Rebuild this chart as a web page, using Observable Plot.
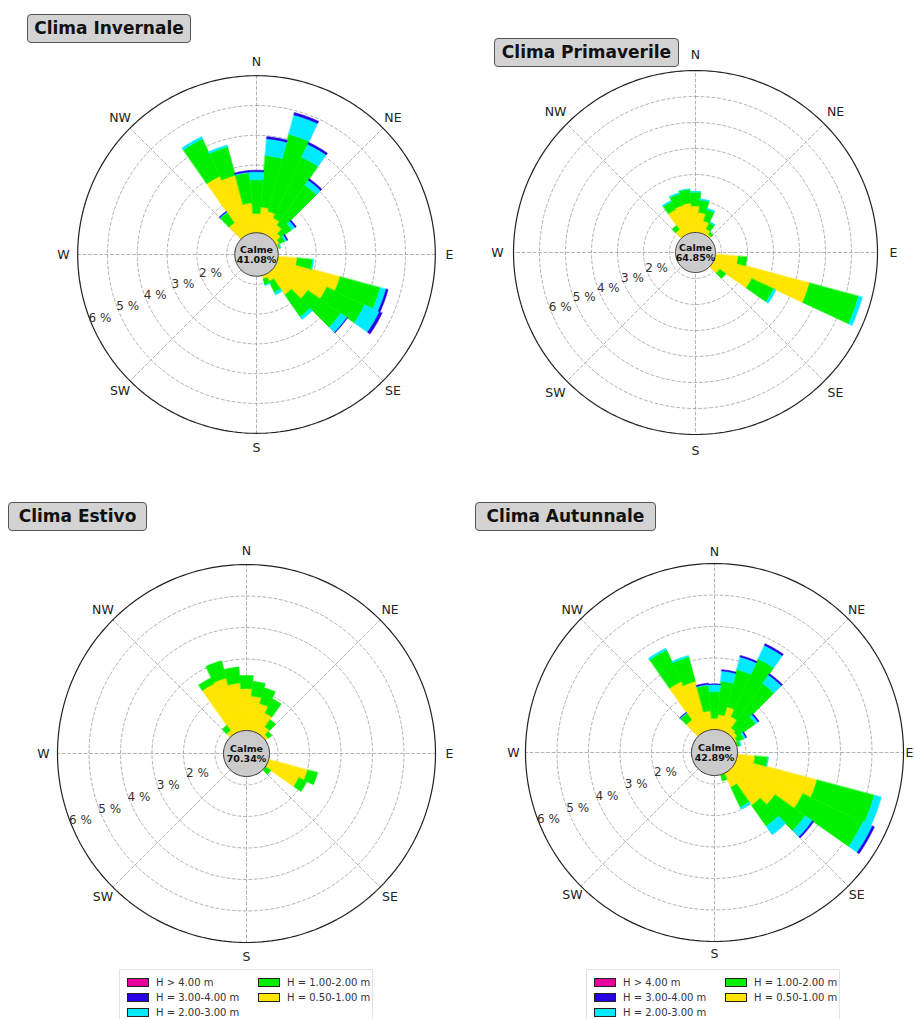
<!DOCTYPE html>
<html><head><meta charset="utf-8">
<script src="https://cdn.jsdelivr.net/npm/d3@7"></script>
<script src="https://cdn.jsdelivr.net/npm/@observablehq/plot@0.6"></script>
<style>
html,body{margin:0;padding:0;background:#fff;width:915px;height:1019px;overflow:hidden;font-family:"DejaVu Sans",sans-serif;}
.panel{position:absolute;z-index:1;width:440px;height:440px;}
.panel svg{max-width:none !important;width:440px;height:440px;}
.title{position:absolute;z-index:5;background:#d3d3d3;border:1.5px solid #555;border-radius:4px;font-weight:bold;font-size:17px;color:#111;text-align:center;box-sizing:border-box;height:29px;line-height:26px;}
.legend{position:absolute;z-index:5;width:254px;height:50px;top:969px;border:1px solid #e2e2e2;border-bottom:none;background:#fff;box-sizing:border-box;}
.item{position:absolute;font-size:10px;color:#333;white-space:nowrap;line-height:12px;}
.sw{display:inline-block;width:20px;height:7px;border:1px solid #222;vertical-align:middle;margin-right:7px;position:relative;top:-1px;}
</style></head><body>
<div class="title" style="left:27px;top:14px;width:164px">Clima Invernale</div>
<div class="title" style="left:494px;top:38px;width:185px">Clima Primaverile</div>
<div class="title" style="left:8px;top:502px;width:139px">Clima Estivo</div>
<div class="title" style="left:475px;top:502px;width:181px">Clima Autunnale</div>
<div id="winter" class="panel" style="left:36px;top:34px"></div>
<div id="spring" class="panel" style="left:475px;top:32px"></div>
<div id="summer" class="panel" style="left:26px;top:533px"></div>
<div id="autumn" class="panel" style="left:494px;top:532px"></div>
<div id="leg1" class="legend" style="left:119px"></div>
<div id="leg2" class="legend" style="left:586px"></div>
<script>
// ---------- data ----------
const dirs = [0,10,20,30,40,50,60,70,80,90,100,110,120,130,140,150,160,170,180,190,200,210,220,230,240,250,260,270,280,290,300,310,320,330,340,350];
const dirLabels = ["N","NE","E","SE","S","SW","W","NW"];
const dirLabelAngles = [0,45,90,135,180,225,270,315];
const pctTicks = [2,3,4,5,6];
const pctTickLabels = ["2 %","3 %","4 %","5 %","6 %"];
const classNames = ["H = 0.50-1.00 m","H = 1.00-2.00 m","H = 2.00-3.00 m","H = 3.00-4.00 m","H > 4.00 m"];
const calmLabels = ["41.08%","64.85%","70.34%","42.89%"];
const titles = ["Clima Invernale","Clima Primaverile","Clima Estivo","Clima Autunnale"];

// frequency (%) of each wave-height class per direction sector (10° sectors)
const winterH05 = [1.38,1.60,1.50,1.35,1.20,1.00,0.85,0.78,0,0,1.37,2.90, 2.60,2.10,1.65,1.00,0.85,0,0,0,0,0,0,0, 0,0,0,0,0,0,0,0,1.30,2.90,2.75,1.74];
const winterH12 = [1.13,1.73,2.68,2.25,1.64,0.45,0.20,0.04,0,0,0.52,1.40, 1.40,1.35,0.90,0.40,0.20,0,0,0,0,0,0,0, 0,0,0,0,0,0,0,0,0.42,1.38,0.99,1.01];
const winterH23 = [0.27,0.57,0.67,0.48,0.20,0.13,0.07,0.03,0,0,0.04,0.20, 0.55,0.25,0.11,0.10,0.03,0,0,0,0,0,0,0, 0,0,0,0,0,0,0,0,0.02,0.08,0.06,0.03];
const winterH34 = [0.05,0.07,0.08,0.07,0.06,0.05,0.04,0,0,0,0,0.07, 0.10,0.02,0,0,0,0,0,0,0,0,0,0, 0,0,0,0,0,0,0,0,0.03,0,0,0.05];
const winterH4  = [0,0,0,0,0,0,0,0,0,0,0,0, 0,0,0,0,0,0,0,0,0,0,0,0, 0,0,0,0,0,0,0,0,0,0,0,0];

const springH05 = [1.79,1.54,1.25,0.99,0.85,0,0,0,0,0,1.65,4.54, 2.38,1.13,0,0,0,0,0,0,0,0,0,0, 0,0,0,0,0,0,0,0,1.08,1.82,1.87,1.91];
const springH12 = [0.53,0.48,0.45,0.28,0.11,0,0,0,0,0,0.34,1.95, 0.93,0.29,0,0,0,0,0,0,0,0,0,0, 0,0,0,0,0,0,0,0,0.19,0.34,0.46,0.53];
const springH23 = [0.04,0.05,0.06,0.04,0,0,0,0,0,0,0,0.15, 0.10,0,0,0,0,0,0,0,0,0,0,0, 0,0,0,0,0,0,0,0,0,0.05,0.05,0.02];
const springH34 = [0,0,0,0,0,0,0,0,0,0,0,0, 0,0,0,0,0,0,0,0,0,0,0,0, 0,0,0,0,0,0,0,0,0,0,0,0];
const springH4  = [0,0,0,0,0,0,0,0,0,0,0,0, 0,0,0,0,0,0,0,0,0,0,0,0, 0,0,0,0,0,0,0,0,0,0,0,0];

const summerH05 = [2.06,1.83,1.64,1.41,1.03,0.84,0,0,0,0,0,2.01, 1.83,0.75,0,0,0,0,0,0,0,0,0,0, 0,0,0,0,0,0,0,0,0.89,2.44,2.48,2.25];
const summerH12 = [0.42,0.47,0.52,0.51,0.28,0.14,0,0,0,0,0,0.33, 0.28,0.19,0,0,0,0,0,0,0,0,0,0, 0,0,0,0,0,0,0,0,0.20,0.21,0.57,0.51];
const summerH23 = [0,0,0,0,0,0,0,0,0,0,0,0, 0,0,0,0,0,0,0,0,0,0,0,0, 0,0,0,0,0,0,0,0,0,0,0,0];
const summerH34 = [0,0,0,0,0,0,0,0,0,0,0,0, 0,0,0,0,0,0,0,0,0,0,0,0, 0,0,0,0,0,0,0,0,0,0,0,0];
const summerH4  = [0,0,0,0,0,0,0,0,0,0,0,0, 0,0,0,0,0,0,0,0,0,0,0,0, 0,0,0,0,0,0,0,0,0,0,0,0];

const autumnH05 = [1.09,1.21,1.50,1.25,0.94,0.89,0.80,0.75,0,0,1.29,3.37, 3.09,2.34,2.05,1.22,0.75,0,0,0,0,0,0,0, 0,0,0,0,0,0,0,0,1.26,2.49,2.34,1.33];
const autumnH12 = [0.85,1.06,1.23,2.03,1.73,0.70,0.23,0.09,0,0,0.40,1.88, 2.11,1.17,0.81,0.70,0.19,0,0,0,0,0,0,0, 0,0,0,0,0,0,0,0,0.26,1.10,0.80,0.81];
const autumnH23 = [0.22,0.33,0.41,0.47,0.33,0.10,0.07,0.04,0,0,0.03,0.23, 0.33,0.28,0.33,0.07,0,0,0,0,0,0,0,0, 0,0,0,0,0,0,0,0,0.02,0.06,0.05,0.03];
const autumnH34 = [0.02,0.04,0.05,0.06,0.05,0.04,0.03,0,0,0,0,0, 0.07,0.05,0,0,0,0,0,0,0,0,0,0, 0,0,0,0,0,0,0,0,0.02,0,0,0.04];
const autumnH4  = [0,0,0,0,0,0,0,0,0,0,0,0, 0,0,0,0,0,0,0,0,0,0,0,0, 0,0,0,0,0,0,0,0,0,0,0,0];

// ---------- styling ----------
const classColors = ["#ffe500","#00f000","#00eaff","#2800e6","#e8009c"];
const rad = Math.PI / 180;
const pt = (b, r) => [r * Math.sin(b * rad), r * Math.cos(b * rad)];
const arc = (r, a0, a1, n) => d3.range(n + 1).map(i => pt(a0 + (a1 - a0) * i / n, r));

function rose({series, calm, k, outer, rings, calmR, labelR, eShift}) {
  const S = 440, H = S / 2 / k;
  const byClass = classColors.map(() => []);
  dirs.forEach((b, i) => {
    let cum = 0;
    series.forEach((arr, j) => {
      const v = arr[i];
      const lo = Math.max(cum, calmR);
      cum += v;
      if (v > 0 && cum > lo) {
        const ring = [...arc(cum, b - 5, b + 5, 10), ...arc(lo, b + 5, b - 5, 10)];
        ring.push(ring[0]);
        byClass[j].push({type: "Polygon", coordinates: [ring]});
      }
    });
  });
  const circle = r => ({type: "LineString", coordinates: arc(r, 0, 360, 240)});
  const spokes = dirLabelAngles.map(a => ({type: "LineString", coordinates: [[0, 0], pt(a, outer)]}));
  const calmPoly = {type: "Polygon", coordinates: [arc(calmR, 0, 360, 120)]};
  const lr = labelR / k;
  const labR = a => (a === 90 ? lr - (eShift || 0) / k : lr);
  const pctR = p => (p * k - 10) / k;
  return Plot.plot({
    width: S, height: S, margin: 0,
    projection: {type: "reflect-y", domain: {type: "MultiPoint", coordinates: [[-H, -H], [H, H]]}},
    style: {background: "transparent", overflow: "visible", fontFamily: "DejaVu Sans, sans-serif"},
    marks: [
      Plot.geo(rings.map(circle), {stroke: "#a0a0a0", strokeWidth: 0.8, strokeDasharray: "3,2.5", fill: "none"}),
      Plot.geo(spokes, {stroke: "#a0a0a0", strokeWidth: 0.8, strokeDasharray: "3,2.5", fill: "none"}),
      ...byClass.map((polys, j) => Plot.geo(polys, {fill: classColors[j], stroke: classColors[j], strokeWidth: 0.5})),
      Plot.geo([circle(outer)], {stroke: "#222", strokeWidth: 1.2, fill: "none"}),
      Plot.geo([calmPoly], {fill: "#cbcbcb", stroke: "#333", strokeWidth: 1}),
      Plot.text(["Calme"], {x: () => 0, y: () => 0, dy: -5, fontWeight: "bold", fontSize: 9.5, fill: "#111"}),
      Plot.text([calm], {x: () => 0, y: () => 0, dy: 5, fontWeight: "bold", fontSize: 9.5, fill: "#111"}),
      Plot.text(dirLabels, {x: (d, i) => pt(dirLabelAngles[i], labR(dirLabelAngles[i]))[0], y: (d, i) => pt(dirLabelAngles[i], labR(dirLabelAngles[i]))[1], fontSize: 12.5, fill: "#222"}),
      Plot.text(pctTickLabels, {x: (d, i) => pt(248, pctR(pctTicks[i]))[0], y: (d, i) => pt(248, pctR(pctTicks[i]))[1], fontSize: 12, fill: "#333"})
    ]
  });
}

const panels = [
  {id: "winter", series: [winterH05, winterH12, winterH23, winterH34, winterH4], calm: calmLabels[0], k: 29.8, outer: 6, rings: [1,2,3,4,5], calmR: 0.73, labelR: 193},
  {id: "spring", series: [springH05, springH12, springH23, springH34, springH4], calm: calmLabels[1], k: 26, outer: 7, rings: [1,2,3,4,5,6], calmR: 0.77, labelR: 198},
  {id: "summer", series: [summerH05, summerH12, summerH23, summerH34, summerH4], calm: calmLabels[2], k: 31.5, outer: 6, rings: [1,2,3,4,5], calmR: 0.73, labelR: 203},
  {id: "autumn", series: [autumnH05, autumnH12, autumnH23, autumnH34, autumnH4], calm: calmLabels[3], k: 31.5, outer: 6, rings: [1,2,3,4,5], calmR: 0.73, labelR: 201, eShift: 6}
];
panels.forEach(p => document.getElementById(p.id).appendChild(rose(p)));

// legends
const legendOrder = [4, 3, 2, 1, 0];
const legendPos = [[7, 7], [7, 22], [7, 37], [138, 7], [138, 22]];
["leg1", "leg2"].forEach(id => {
  const el = document.getElementById(id);
  legendOrder.forEach((c, n) => {
    const it = document.createElement("div");
    it.className = "item";
    it.style.left = legendPos[n][0] + "px";
    it.style.top = legendPos[n][1] + "px";
    it.innerHTML = `<span class="sw" style="background:${classColors[c]}"></span>${classNames[c]}`;
    el.appendChild(it);
  });
});
</script>
</body></html>
